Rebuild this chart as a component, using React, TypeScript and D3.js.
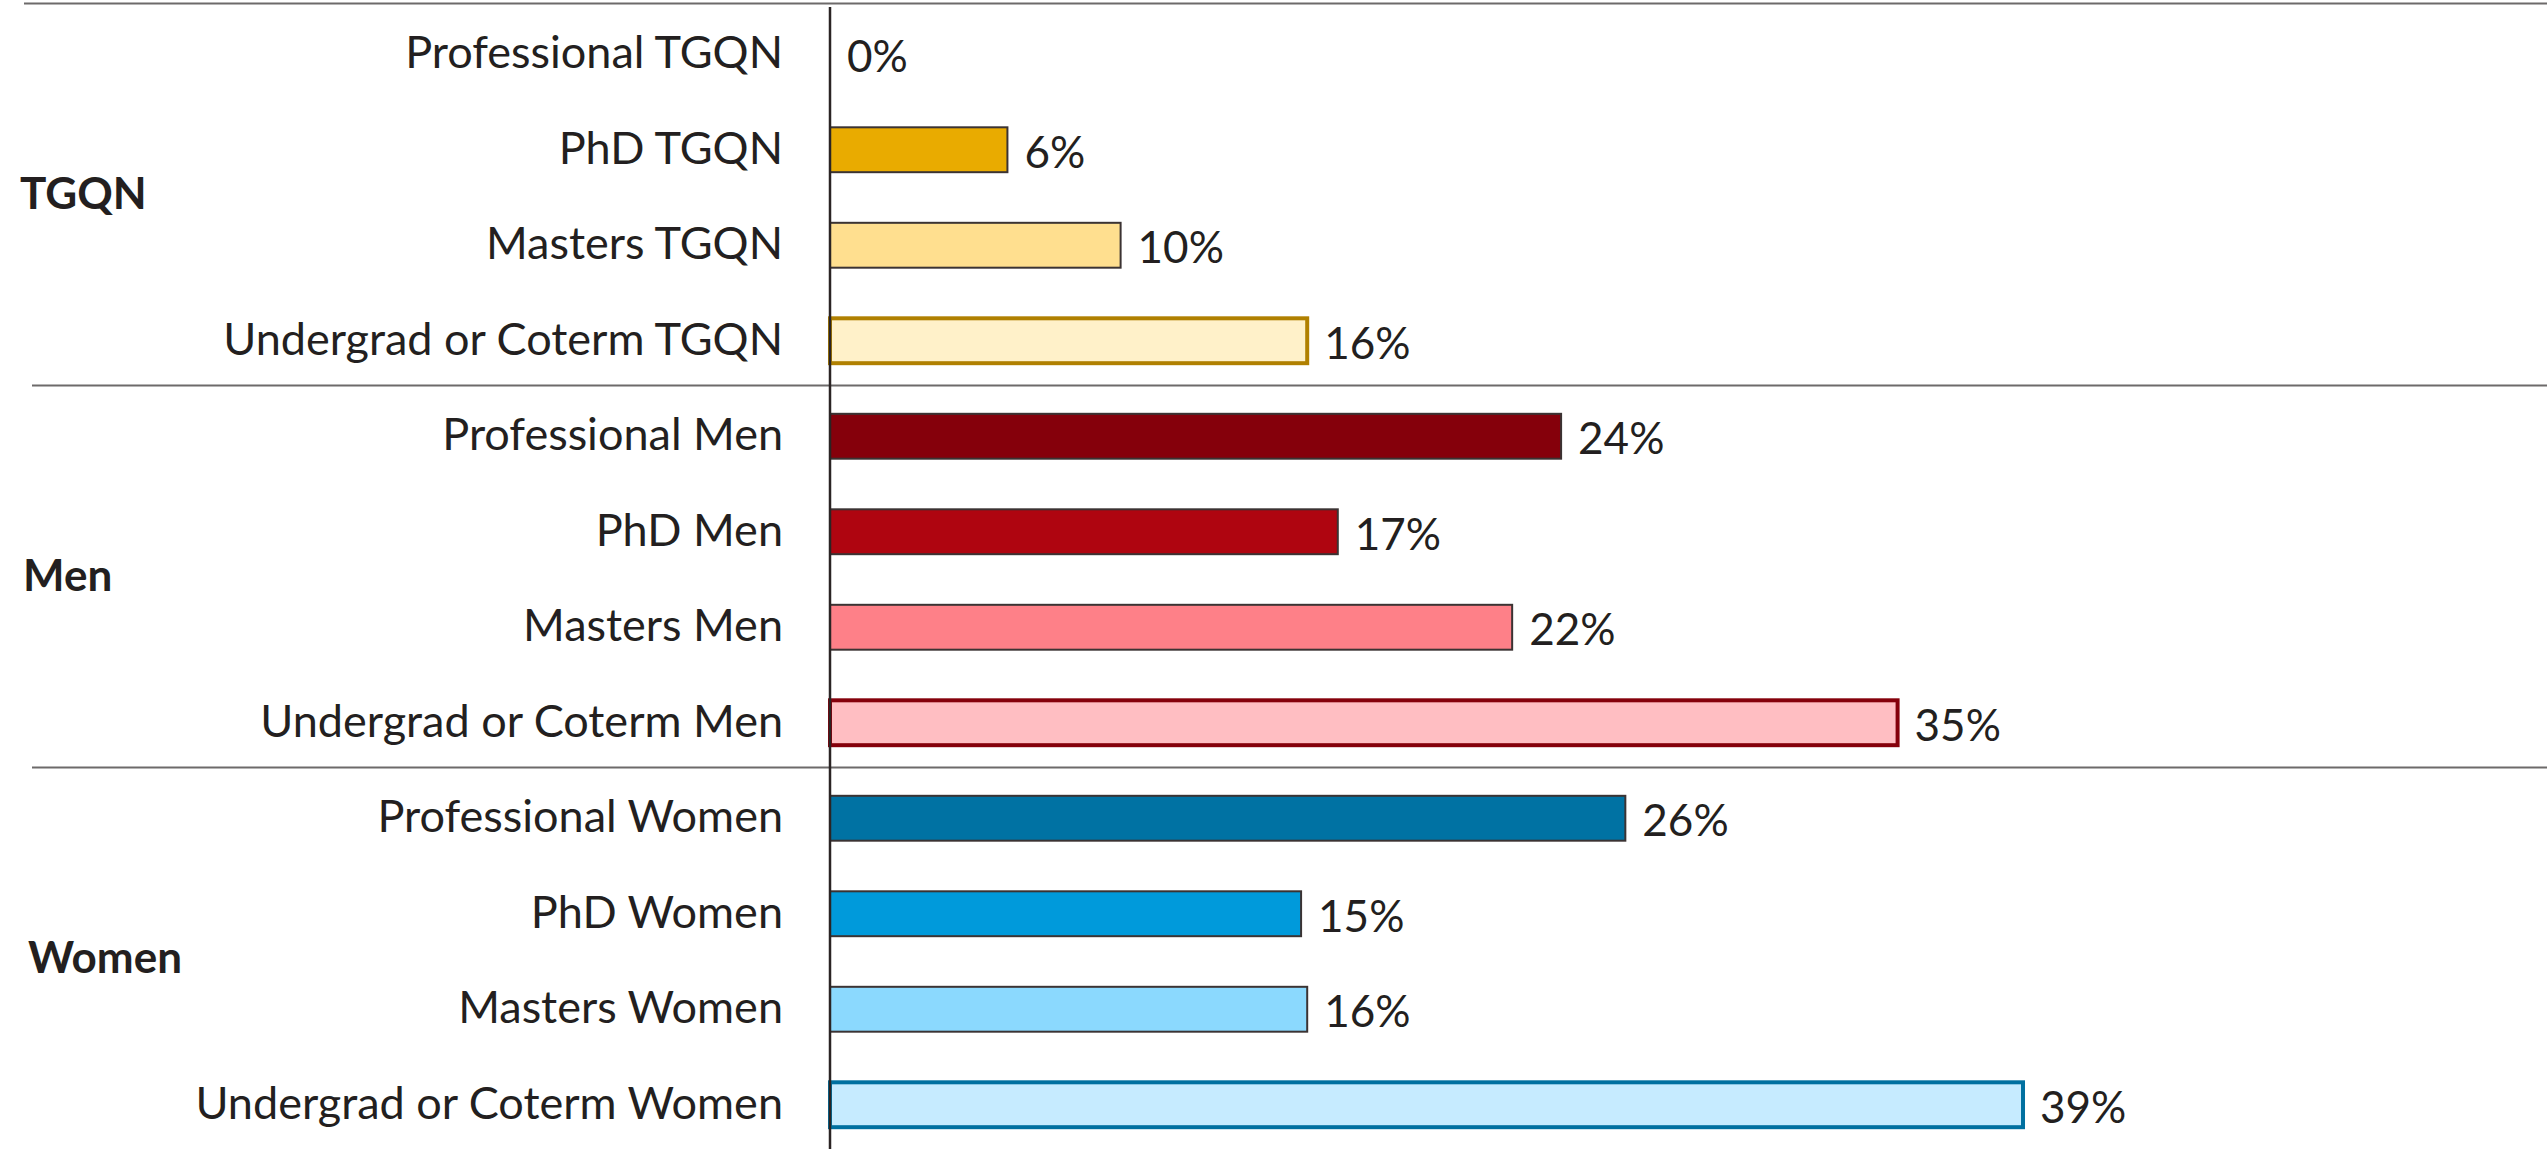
import * as d3 from 'd3';

const groups = ['TGQN', 'Men', 'Women'];

const categories = [
	'Professional TGQN',
	'PhD TGQN',
	'Masters TGQN',
	'Undergrad or Coterm TGQN',
	'Professional Men',
	'PhD Men',
	'Masters Men',
	'Undergrad or Coterm Men',
	'Professional Women',
	'PhD Women',
	'Masters Women',
	'Undergrad or Coterm Women',
];

const categoryGroup = ['TGQN', 'TGQN', 'TGQN', 'TGQN', 'Men', 'Men', 'Men', 'Men', 'Women', 'Women', 'Women', 'Women'];

// share in percent
const values = [0, 5.8, 9.5, 15.6, 23.9, 16.6, 22.3, 34.9, 26.0, 15.4, 15.6, 39.0];

// styling kept apart from data
const fills = [
	'#e9ab00', '#e9ab00', '#ffdf8f', '#fff1c9',
	'#85000b', '#af0510', '#fe8088', '#ffbec2',
	'#0072a3', '#009adb', '#8bd9fe', '#c6ebff',
];
const strokes = [
	'#3b3333', '#3b3333', '#3b3333', '#b08000',
	'#3b3333', '#3b3333', '#3b3333', '#85000b',
	'#3b3333', '#3b3333', '#3b3333', '#0070a0',
];
const groupLabelX: Record<string, number> = { TGQN: 20, Men: 23, Women: 28 };

const width = 2547;
const height = 1149;
const textColor = '#231f20';
const font = 'Lato, "Noto Sans", sans-serif';

export default function App() {
	const y = d3
		.scaleBand<string>()
		.domain(categories)
		.range([6.5, 1152.5])
		.paddingInner(0.53)
		.paddingOuter(0.265);

	const x = d3.scaleLinear().domain([0, 40]).range([830, 830 + 40 * 30.59]);

	const step = y.step();
	const bw = y.bandwidth();
	const bandStart = (c: string) => y(c)! - step * y.paddingOuter();

	const sections = groups.map((g) => {
		const cats = categories.filter((_, i) => categoryGroup[i] === g);
		const top = bandStart(cats[0]);
		const bottom = bandStart(cats[cats.length - 1]) + step;
		return { g, top, bottom };
	});

	return (
		<svg
			width={width}
			height={height}
			style={{ position: 'absolute', left: 0, top: 0, background: '#fff' }}
			fontFamily={font}
		>
			{/* group divider lines */}
			{sections.map((s, i) => (
				<line
					key={s.g}
					x1={i === 0 ? 24 : 32}
					x2={width}
					y1={s.top - 3}
					y2={s.top - 3}
					stroke="#6d6a6a"
					strokeWidth={2}
				/>
			))}

			{/* group labels */}
			{sections.map((s) => (
				<text
					key={s.g}
					x={groupLabelX[s.g]}
					y={(s.top + s.bottom) / 2 - 3 + 14}
					fontSize={44}
					fontWeight={700}
					fill={textColor}
				>
					{s.g}
				</text>
			))}

			{/* category labels */}
			{categories.map((c) => (
				<text
					key={c}
					x={783}
					y={y(c)! + bw / 2 + 14}
					textAnchor="end"
					fontSize={45}
					fill={textColor}
				>
					{c}
				</text>
			))}

			{/* bars */}
			{categories.map((c, i) =>
				values[i] > 0 ? (
					<rect
						key={c}
						x={x(0)}
						y={y(c)!}
						width={x(values[i]) - x(0)}
						height={bw}
						fill={fills[i]}
						stroke={strokes[i]}
						strokeWidth={i % 4 === 3 ? 4 : 2}
					/>
				) : null
			)}

			{/* value labels */}
			{categories.map((c, i) => (
				<text
					key={c}
					x={x(values[i]) + 17}
					y={y(c)! + bw / 2 + 18}
					fontSize={44}
					fill={textColor}
				>
					{Math.round(values[i])}%
				</text>
			))}

			{/* vertical axis */}
			<line
				x1={x(0)}
				x2={x(0)}
				y1={7}
				y2={height}
				stroke="#2b2424"
				strokeWidth={2.5}
			/>
		</svg>
	);
}
